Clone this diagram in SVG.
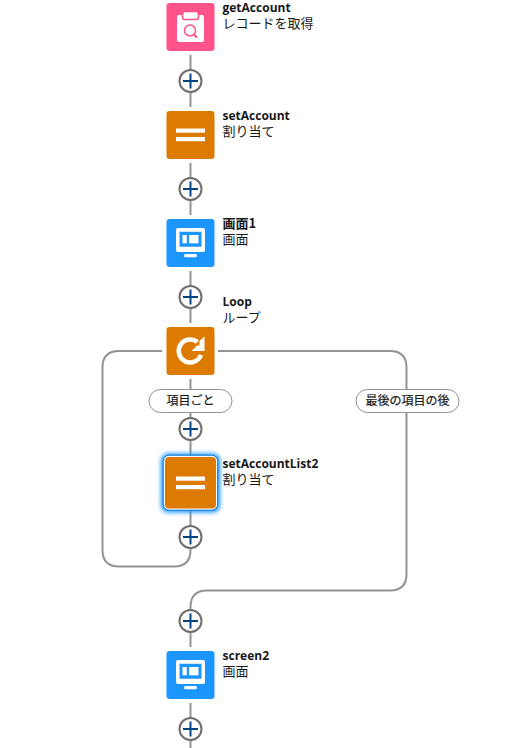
<svg xmlns="http://www.w3.org/2000/svg" width="522" height="748" viewBox="0 0 522 748">
<defs>
<style>
.conn{fill:none;stroke:#939393;stroke-width:2}
.ring{fill:#fff;stroke:#706e6b;stroke-width:2}
.plus{fill:none;stroke:#014486;stroke-width:2}
.t1{font:bold 12px "Open Sans","Noto Sans CJK JP",sans-serif;fill:#181818}
.t1j{font:bold 13px "Noto Sans CJK JP",sans-serif;fill:#181818}
.t2{font:13px "Noto Sans CJK JP",sans-serif;fill:#181818}
.pill{fill:#fff;stroke:#939393;stroke-width:1}
.pt{font:12px "Noto Sans CJK JP",sans-serif;fill:#181818;text-anchor:middle;stroke:#181818;stroke-width:.2}
.w{fill:#fff}
</style>
<filter id="glow" x="-40%" y="-40%" width="180%" height="180%"><feGaussianBlur stdDeviation="2"/></filter>
<g id="p"><circle r="11" class="ring"/><path d="M-7.500 0H7.500M0-7.500V7.500" class="plus"/></g>
<g id="eq"><rect x="-14.500" y="-6.500" width="29" height="4.200" class="w"/><rect x="-14.500" y="2" width="29" height="4.200" class="w"/></g>
<g id="scr"><path class="w" fill-rule="evenodd" d="M-12.500-15H12.500Q14.500-15 14.500-13V7Q14.500 9 12.500 9H-12.500Q-14.500 9-14.500 7V-13Q-14.500-15-12.500-15ZM-11-11.300V3.700H11V-11.300Z"/><rect x="-8" y="-8" width="4.300" height="8.300" class="w"/><rect x="-1.500" y="-8" width="9.500" height="8.300" class="w"/><rect x="-6.500" y="11" width="13" height="3.300" rx="1.600" class="w"/></g>
</defs>
<rect width="522" height="748" fill="#fff"/>
<g id="connectors">
<path class="conn" d="M190.500 55V107M190.500 163V215M190.500 271V323M190.500 379V455M190.500 511V550Q190.500 566.500 174 566.500H119Q102.500 566.500 102.500 550V367.500Q102.500 351 119 351H162"/>
<path class="conn" d="M218 351H390Q406.500 351 406.500 367.500V574Q406.500 590.500 390 590.500H207Q190.500 590.500 190.500 607V647M190.500 703V748"/>
</g>
<g id="add-1"><use href="#p" x="190.500" y="81"/></g>
<g id="add-2"><use href="#p" x="190.500" y="189"/></g>
<g id="add-3"><use href="#p" x="190.500" y="297"/></g>
<g id="add-4"><use href="#p" x="190.500" y="429"/></g>
<g id="add-5"><use href="#p" x="190.500" y="537"/></g>
<g id="add-6"><use href="#p" x="190.500" y="621"/></g>
<g id="add-7"><use href="#p" x="190.500" y="729"/></g>
<g id="getAccount">
<rect x="166.500" y="3" width="48" height="48" rx="3" fill="#ff538a"/>
<path class="w" d="M179 15H202Q204 15 204 17V40Q204 42 202 42H179Q177 42 177 40V17Q177 15 179 15Z"/>
<rect x="182.500" y="11.500" width="16" height="8" rx="2.500" fill="#fff" stroke="#ff538a" stroke-width="1.500"/>
<circle cx="190" cy="30.500" r="5.500" fill="none" stroke="#ff538a" stroke-width="1.500"/>
<path d="M194 34.500L197 37.500" stroke="#ff538a" stroke-width="2.200" fill="none"/>
<text class="t1" x="222.500" y="12">getAccount</text><text class="t2" x="222.500" y="28">レコードを取得</text>
</g>
<g id="setAccount">
<rect x="166.500" y="111" width="48" height="48" rx="3" fill="#dd7a01"/><use href="#eq" x="190.500" y="135"/>
<text class="t1" x="222.500" y="120">setAccount</text><text class="t2" x="222.500" y="136">割り当て</text>
</g>
<g id="screen1">
<rect x="166.500" y="219" width="48" height="48" rx="3" fill="#1b96ff"/><use href="#scr" x="190.500" y="243"/>
<text class="t1j" x="222.500" y="228">画面1</text><text class="t2" x="222.500" y="244">画面</text>
</g>
<g id="loop">
<rect x="166.500" y="327" width="48" height="48" rx="3" fill="#dd7a01"/>
<path d="M197.500 342A11.500 11.500 0 1 0 201 355" fill="none" stroke="#fff" stroke-width="4.500"/>
<path class="w" d="M204.500 336.500V351H191.500L197 345.500H199.500V341Z"/>
<text class="t1" x="222.500" y="306">Loop</text><text class="t2" x="222.500" y="322">ループ</text>
</g>
<g id="label-each"><rect class="pill" x="149" y="389.500" width="83" height="23" rx="11.500"/><text class="pt" x="190.500" y="405">項目ごと</text></g>
<g id="label-after"><rect class="pill" x="356" y="389.500" width="103" height="23" rx="11.500"/><text class="pt" x="407.500" y="405">最後の項目の後</text></g>
<g id="setAccountList2">
<rect x="161" y="453.500" width="59" height="59" rx="7" fill="#1b96ff" filter="url(#glow)"/>
<rect x="163.200" y="455.200" width="54.500" height="55" rx="6" fill="#fff" stroke="#0176d3"/>
<rect x="165" y="457" width="51" height="51.500" rx="4" fill="#dd7a01"/><use href="#eq" x="190.500" y="483"/>
<text class="t1" x="222.500" y="468">setAccountList2</text><text class="t2" x="222.500" y="484">割り当て</text>
</g>
<g id="screen2">
<rect x="166.500" y="651" width="48" height="48" rx="3" fill="#1b96ff"/><use href="#scr" x="190.500" y="675"/>
<text class="t1" x="222.500" y="660">screen2</text><text class="t2" x="222.500" y="676">画面</text>
</g>
</svg>
